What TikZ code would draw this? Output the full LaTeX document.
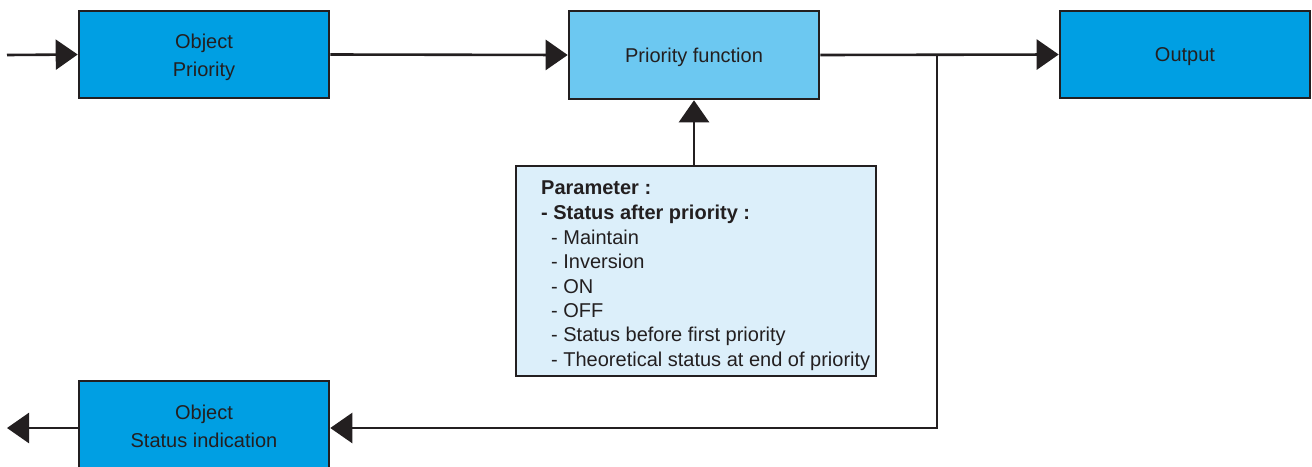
\documentclass[tikz,border=0pt]{standalone}
\usepackage{fontspec}
\setmainfont{Liberation Sans}
\usetikzlibrary{arrows.meta}
\definecolor{mainblue}{HTML}{009FE3}
\definecolor{lightblue}{HTML}{6CC8F1}
\definecolor{paleblue}{HTML}{DCEFFA}
\definecolor{ink}{HTML}{231F20}
\begin{document}
\begin{tikzpicture}[x=1pt,y=-1pt,
  box/.style={draw=ink, line width=2.6pt, fill=mainblue, minimum width=250pt, minimum height=87pt,
    inner sep=0pt},
  btext/.style={inner sep=0pt, align=center, text=ink, font=\fontsize{20pt}{28pt}\selectfont},
  ptext/.style={anchor=base west, inner sep=0pt, text=ink, font=\fontsize{20pt}{24pt}\selectfont},
  conn/.style={draw=ink, line width=2.6pt, -{Triangle[length=22pt,width=30pt]}}]
\clip (0,0) rectangle (1312,466);
\fill[white] (0,0) rectangle (1312,466);
\node[box] (op) at (204,54.5) {};
\node[btext] (optext) at (204,57) {Object\\Priority};
\node[box, fill=lightblue, minimum height=88pt] (pf) at (694,55) {};
\node[btext] (pftext) at (694,57) {Priority function};
\node[box] (out) at (1185,54.5) {};
\node[btext] (outtext) at (1185,57) {Output};
\node[box, minimum height=94pt] (si) at (204,428) {};
\node[btext] (sitext) at (204,426.5) {Object\\Status indication};
\node[draw=ink, line width=2.6pt, fill=paleblue, minimum width=360pt, minimum height=210pt, inner sep=0pt] (param) at (696,271) {};
\node[ptext, font=\fontsize{20pt}{24pt}\selectfont\bfseries] (p1) at (541,194.5) {Parameter :};
\node[ptext, font=\fontsize{20pt}{24pt}\selectfont\bfseries] (p2) at (541,219.5) {- Status after priority :};
\node[ptext] (p3) at (551,244.5) {- Maintain};
\node[ptext] (p4) at (551,268.5) {- Inversion};
\node[ptext] (p5) at (551,293) {- ON};
\node[ptext] (p6) at (551,317) {- OFF};
\node[ptext] (p7) at (551,341.5) {- Status before first priority};
\node[ptext] (p8) at (551,366) {- Theoretical status at end of priority};
\coordinate (in) at (7,55);
\coordinate (outl) at (7,428);
\coordinate (br) at (937,55);
\draw[conn] (in) -- (op.west);
\draw[conn] (op.east) -- (pf.west);
\draw[conn] (pf.east) -- (out.west);
\draw[conn] (param.north -| pf.south) -- (pf.south);
\draw[conn] (br) |- (si.east);
\draw[conn] (si.west) -- (outl);
\end{tikzpicture}
\end{document}
